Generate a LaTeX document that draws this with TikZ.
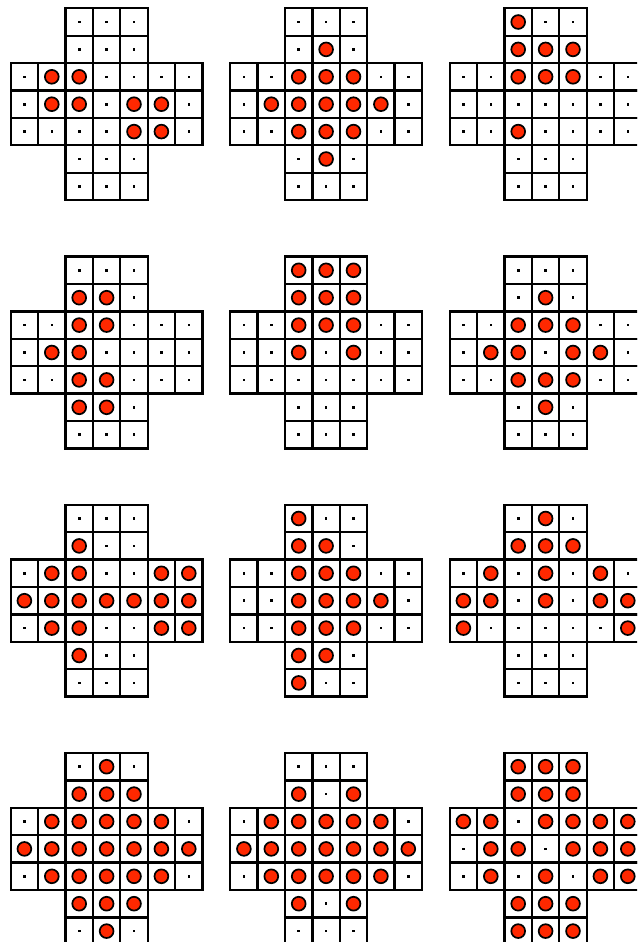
\documentclass[tikz,border=0pt]{standalone}
\definecolor{pegred}{RGB}{255,40,0}
\tikzset{
  cellbox/.style={draw=black, line width=2.3pt},
  pegdisk/.style={fill=pegred, draw=black, line width=1.7pt},
  holedot/.style={fill=black},
}
\newcommand\psboard[3]{%
  \begin{scope}[shift={(#1,#2)}]
    \foreach \r in {0,...,6}{%
      \foreach \c in {0,...,6}{%
        \pgfmathtruncatemacro\okcell{or(and(\r>1,\r<5),and(\c>1,\c<5))}%
        \ifnum\okcell=1
          \draw[cellbox] ({\c*27.4},{\r*27.4}) rectangle ++(27.4,27.4);
          \fill[holedot] ({(\c+0.5)*27.4-1.3},{(\r+0.5)*27.4-1.3}) rectangle ++(2.6,2.6);
        \fi
      }%
    }%
    \foreach \r/\c in {#3}{%
      \filldraw[pegdisk] ({(\c+0.5)*27.4},{(\r+0.5)*27.4}) circle (6.9pt);
    }%
  \end{scope}%
}
\begin{document}
\begin{tikzpicture}[x=1pt,y=-1pt]
  \useasboundingbox (0,0) rectangle (637,942);
  \clip (0,0) rectangle (637,942);
  \fill[white] (0,0) rectangle (637,942);
  % row 1
  \psboard{10.7}{8.3}{2/1,2/2,3/1,3/2,3/4,3/5,4/4,4/5}
  \psboard{230.2}{8.3}{1/3,2/2,2/3,2/4,3/1,3/2,3/3,3/4,3/5,4/2,4/3,4/4,5/3}
  \psboard{449.7}{8.3}{0/2,1/2,1/3,1/4,2/2,2/3,2/4,4/2}
  % row 2
  \psboard{10.7}{256.6}{1/2,1/3,2/2,2/3,3/1,3/2,4/2,4/3,5/2,5/3}
  \psboard{230.2}{256.6}{0/2,0/3,0/4,1/2,1/3,1/4,2/2,2/3,2/4,3/2,3/4}
  \psboard{449.7}{256.6}{1/3,2/2,2/3,2/4,3/1,3/2,3/4,3/5,4/2,4/3,4/4,5/3}
  % row 3
  \psboard{10.7}{504.8}{1/2,2/1,2/2,2/5,2/6,3/0,3/1,3/2,3/3,3/4,3/5,3/6,4/1,4/2,4/5,4/6,5/2}
  \psboard{230.2}{504.8}{0/2,1/2,1/3,2/2,2/3,2/4,3/2,3/3,3/4,3/5,4/2,4/3,4/4,5/2,5/3,6/2}
  \psboard{449.7}{504.8}{0/3,1/2,1/3,1/4,2/1,2/3,2/5,3/0,3/1,3/3,3/5,3/6,4/0,4/6}
  % row 4
  \psboard{10.7}{753}{0/3,1/2,1/3,1/4,2/1,2/2,2/3,2/4,2/5,3/0,3/1,3/2,3/3,3/4,3/5,3/6,4/1,4/2,4/3,4/4,4/5,5/2,5/3,5/4,6/3}
  \psboard{230.2}{753}{1/2,1/4,2/1,2/2,2/3,2/4,2/5,3/0,3/1,3/2,3/3,3/4,3/5,3/6,4/1,4/2,4/3,4/4,4/5,5/2,5/4}
  \psboard{449.7}{753}{0/2,0/3,0/4,1/2,1/3,1/4,2/0,2/1,2/3,2/4,2/5,2/6,3/1,3/2,3/4,3/5,3/6,4/1,4/3,4/5,4/6,5/2,5/3,5/4,6/2,6/3,6/4}
\end{tikzpicture}
\end{document}
